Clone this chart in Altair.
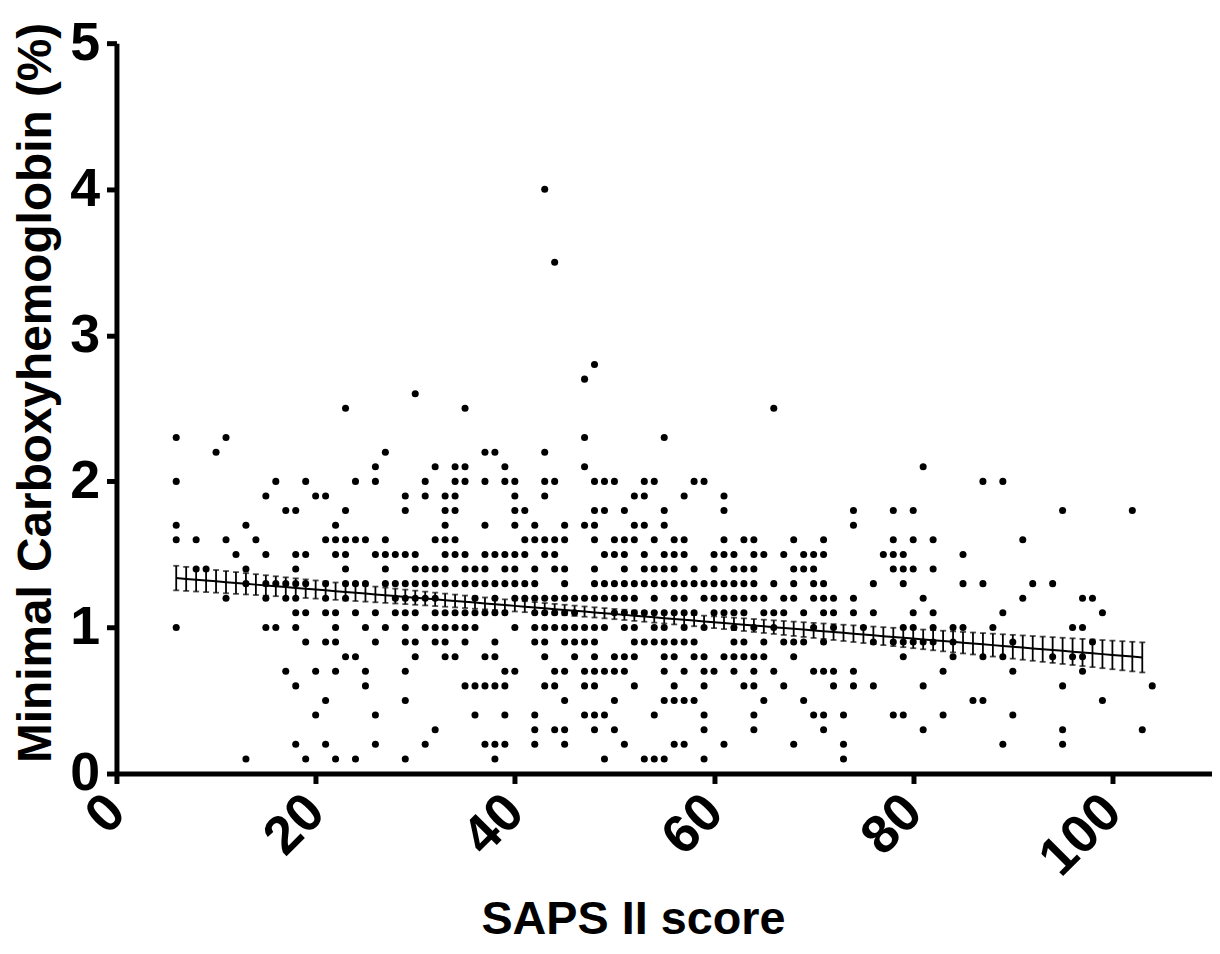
import altair as alt
import numpy as np
import pandas as pd

# Minimal carboxyhemoglobin levels (%) and the SAPS II scores recorded at each level
saps_4_0 = [43]
saps_3_5 = [44]
saps_2_8 = [48]
saps_2_7 = [47]
saps_2_6 = [30]
saps_2_5 = [23, 35, 66]
saps_2_3 = [6, 11, 47, 55]
saps_2_2 = [10, 27, 37, 38, 43]
saps_2_1 = [26, 32, 34, 35, 39, 47, 81]
saps_2_0 = [6, 16, 19, 24, 26, 31, 34, 35, 37, 39, 40, 43, 44, 48, 49, 50, 53, 54,
            58, 59, 87, 89]
saps_1_9 = [15, 20, 21, 29, 31, 33, 34, 40, 43, 52, 53, 57, 61]
saps_1_8 = [17, 18, 23, 29, 33, 34, 40, 41, 48, 49, 51, 55, 61, 74, 78, 80, 95, 102]
saps_1_7 = [6, 13, 22, 33, 37, 40, 42, 45, 47, 48, 52, 53, 55, 74]
saps_1_6 = [6, 8, 11, 14, 21, 22, 23, 24, 25, 27, 32, 33, 34, 41, 42, 43, 44, 45, 48,
            50, 51, 52, 54, 56, 57, 61, 63, 64, 68, 71, 78, 80, 82, 91]
saps_1_5 = [12, 15, 18, 19, 22, 23, 26, 27, 28, 29, 30, 33, 34, 35, 37, 38, 39, 40, 41,
            43, 44, 49, 50, 51, 53, 55, 56, 57, 60, 61, 62, 64, 65, 67, 69, 70, 71, 77,
            78, 79, 85]
saps_1_4 = [8, 9, 13, 18, 23, 27, 30, 31, 32, 33, 35, 36, 37, 39, 40, 42, 44, 45, 48,
            51, 53, 54, 55, 56, 58, 60, 62, 63, 64, 68, 69, 70, 78, 79, 80, 82]
saps_1_3 = [13, 15, 16, 17, 18, 19, 21, 23, 24, 25, 27, 28, 29, 30, 31, 32, 33, 34, 35,
            36, 37, 38, 39, 40, 41, 42, 45, 48, 49, 50, 51, 52, 53, 54, 55, 56, 57, 58,
            59, 60, 61, 62, 63, 64, 66, 68, 70, 71, 76, 79, 85, 87, 92, 94]
saps_1_2 = [11, 15, 17, 18, 21, 23, 28, 29, 30, 31, 32, 36, 38, 40, 41, 42, 43, 44, 45,
            46, 47, 48, 49, 50, 51, 52, 54, 56, 57, 59, 60, 61, 62, 63, 64, 65, 67, 68,
            70, 71, 72, 74, 81, 91, 97, 98]
saps_1_1 = [18, 19, 21, 22, 24, 26, 28, 29, 30, 32, 33, 34, 35, 36, 37, 38, 39, 42, 43,
            44, 45, 46, 50, 51, 52, 53, 54, 55, 56, 57, 58, 60, 61, 62, 63, 65, 66, 67,
            69, 71, 72, 74, 76, 80, 82, 89, 99]
saps_1_0 = [6, 15, 16, 18, 22, 25, 27, 29, 31, 32, 33, 34, 35, 36, 40, 42, 43, 44, 45,
            46, 47, 48, 49, 51, 52, 54, 55, 57, 59, 62, 64, 66, 70, 72, 75, 79, 80, 82,
            84, 85, 88, 96, 97]
saps_0_9 = [19, 21, 22, 26, 29, 30, 32, 33, 35, 38, 42, 43, 45, 46, 47, 48, 52, 53, 54,
            55, 56, 57, 58, 62, 63, 65, 67, 68, 69, 71, 76, 78, 79, 80, 81, 82, 84, 90, 98]
saps_0_8 = [23, 24, 30, 33, 34, 37, 38, 43, 46, 48, 50, 51, 52, 55, 56, 58, 59, 61, 62,
            63, 64, 65, 68, 79, 84, 87, 89, 94, 96, 97]
saps_0_7 = [17, 20, 22, 25, 29, 39, 40, 44, 45, 47, 48, 49, 50, 51, 55, 57, 59, 60, 62,
            64, 66, 70, 71, 72, 74, 83, 90, 97]
saps_0_6 = [18, 25, 35, 36, 37, 38, 39, 43, 44, 47, 48, 52, 56, 59, 63, 64, 67, 72, 74,
            76, 81, 95, 104]
saps_0_5 = [21, 29, 45, 50, 55, 56, 57, 58, 65, 69, 86, 87, 99]
saps_0_4 = [20, 26, 36, 39, 42, 47, 48, 49, 54, 59, 64, 70, 71, 73, 78, 79, 83, 90]
saps_0_3 = [32, 42, 44, 45, 48, 50, 59, 64, 71, 81, 95, 103]
saps_0_2 = [18, 21, 26, 31, 37, 38, 39, 42, 45, 51, 56, 57, 61, 68, 73, 89, 95]
saps_0_1 = [13, 19, 22, 24, 29, 38, 49, 53, 54, 55, 59, 73]

cohb_levels = [4.0, 3.5, 2.8, 2.7, 2.6, 2.5, 2.3, 2.2, 2.1, 2.0, 1.9, 1.8, 1.7, 1.6,
               1.5, 1.4, 1.3, 1.2, 1.1, 1.0, 0.9, 0.8, 0.7, 0.6, 0.5, 0.4, 0.3, 0.2, 0.1]
saps_lists = [saps_4_0, saps_3_5, saps_2_8, saps_2_7, saps_2_6, saps_2_5, saps_2_3,
              saps_2_2, saps_2_1, saps_2_0, saps_1_9, saps_1_8, saps_1_7, saps_1_6,
              saps_1_5, saps_1_4, saps_1_3, saps_1_2, saps_1_1, saps_1_0, saps_0_9,
              saps_0_8, saps_0_7, saps_0_6, saps_0_5, saps_0_4, saps_0_3, saps_0_2,
              saps_0_1]

x_ticks = [0, 20, 40, 60, 80, 100]
y_ticks = [0, 1, 2, 3, 4, 5]

# Linear fit drawn in the reference:
# line ends, and the 95% CI half-widths at both ends and at its narrowest point
fit_x_ends = [6, 103]
fit_y_ends = [1.338, 0.795]
ci_half_ends = [0.084, 0.103]
ci_half_min = 0.035

rows = []
for level, xs in zip(cohb_levels, saps_lists):
    for s in xs:
        rows.append({"saps": s, "cohb": level})
pts = pd.DataFrame(rows)

# error bars at each integer score along the fit (regression CI has hyperbolic shape)
x0, x1 = fit_x_ends
y0, y1 = fit_y_ends
slope = (y1 - y0) / (x1 - x0)
a0 = np.sqrt(ci_half_ends[0] ** 2 - ci_half_min ** 2)
a1 = np.sqrt(ci_half_ends[1] ** 2 - ci_half_min ** 2)
k = (a0 + a1) / (x1 - x0)
xm = x0 + a0 / k
fx = np.arange(x0, x1 + 1, dtype=float)
fy = y0 + slope * (fx - x0)
half = np.sqrt(ci_half_min ** 2 + (k * (fx - xm)) ** 2)
fit = pd.DataFrame({"saps": fx, "cohb": fy, "lo": fy - half, "hi": fy + half})

FONT = "Liberation Sans"
x_title = "SAPS II score"
y_title = "Minimal Carboxyhemoglobin (%)"
xscale = alt.Scale(domain=[0, 110], nice=False, zero=False)
yscale = alt.Scale(domain=[0, 5], nice=False)

xaxis = alt.Axis(values=x_ticks, format="d", labelAngle=315, labelAlign="right",
                 labelBaseline="middle", labelPadding=20, title=x_title,
                 titleX=519, titleY=161, titleBaseline="alphabetic",
                 titleAnchor="start", titleAlign="center")
yaxis = alt.Axis(values=y_ticks, format="d", labelPadding=7, title=y_title,
                 titleX=-66, titleY=351, titleAngle=270, titleAlign="center",
                 titleAnchor="start", titleBaseline="alphabetic", titleFontSize=48)

points = alt.Chart(pts).mark_circle(size=50, color="black", opacity=1).encode(
    x=alt.X("saps:Q", scale=xscale, axis=xaxis, title=x_title),
    y=alt.Y("cohb:Q", scale=yscale, axis=yaxis, title=y_title),
)

base = alt.Chart(fit)
bars = base.mark_rule(color="black", strokeWidth=1.8).encode(
    x=alt.X("saps:Q", scale=xscale, title=x_title),
    y=alt.Y("lo:Q", scale=yscale, title=y_title),
    y2="hi:Q",
)
caps_lo = base.mark_tick(color="black", orient="horizontal", size=6, thickness=1.8).encode(
    x=alt.X("saps:Q", scale=xscale, title=x_title),
    y=alt.Y("lo:Q", scale=yscale, title=y_title),
)
caps_hi = base.mark_tick(color="black", orient="horizontal", size=6, thickness=1.8).encode(
    x=alt.X("saps:Q", scale=xscale, title=x_title),
    y=alt.Y("hi:Q", scale=yscale, title=y_title),
)
line = base.mark_line(color="black", strokeWidth=2).encode(
    x=alt.X("saps:Q", scale=xscale, title=x_title),
    y=alt.Y("cohb:Q", scale=yscale, title=y_title),
)

chart = alt.layer(points, bars, caps_lo, caps_hi, line).properties(
    width=1101, height=734,
    autosize=alt.AutoSizeParams(type="none"),
    padding={"left": 109, "top": 33, "right": 0, "bottom": 171},
).configure_view(stroke=None).configure_axis(
    grid=False,
    domainColor="black", domainWidth=5,
    tickColor="black", tickWidth=5, tickSize=10,
    labelFont=FONT, labelFontWeight="bold", labelFontSize=54, labelColor="black",
    titleFont=FONT, titleFontWeight="bold", titleFontSize=47, titleColor="black",
)

chart.save("out.html", embed_options={"renderer": "svg", "actions": False})
